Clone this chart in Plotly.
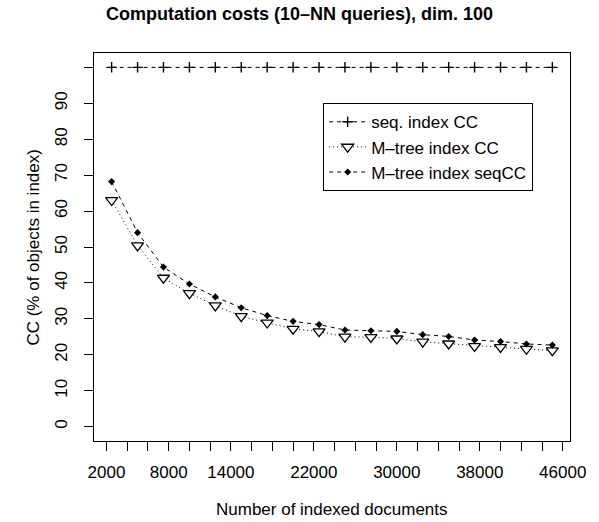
import plotly.graph_objects as go

# ---- data ----
docs = [2500, 5000, 7500, 10000, 12500, 15000, 17500, 20000, 22500,
        25000, 27500, 30000, 32500, 35000, 37500, 40000, 42500, 45000]
seq_cc = [100] * 18
mtree_cc = [63.0, 50.4, 41.4, 37.1, 33.7, 30.7, 28.9, 27.2, 26.5,
            25.0, 24.9, 24.5, 23.6, 23.1, 22.4, 22.1, 21.6, 21.2]
mtree_seqcc = [68.2, 54.0, 44.4, 39.7, 36.1, 33.1, 30.9, 29.3, 28.4,
               26.9, 26.7, 26.5, 25.6, 25.1, 24.1, 23.7, 23.0, 22.7]

x_tickvals = list(range(2000, 46001, 2000))
x_labels_shown = {2000, 8000, 14000, 22000, 30000, 38000, 46000}
x_ticktext = [str(v) if v in x_labels_shown else "" for v in x_tickvals]
y_tickvals = list(range(0, 101, 10))
y_ticktext = [str(v) if v < 100 else "" for v in y_tickvals]

FONT = "Liberation Sans, Arial, Helvetica, sans-serif"

fig = go.Figure()
fig.add_trace(go.Scatter(
    x=docs, y=seq_cc, name="seq. index CC", mode="lines+markers",
    line=dict(color="black", width=1, dash="4px,4px"),
    marker=dict(symbol="cross-thin", size=7.5, line=dict(color="black", width=1.4)),
))
fig.add_trace(go.Scatter(
    x=docs, y=mtree_cc, name="M–tree index CC", mode="lines+markers",
    line=dict(color="black", width=1, dash="1px,3px"),
    marker=dict(symbol="triangle-down", size=10.5, color="white",
                line=dict(color="black", width=1.3)),
))
fig.add_trace(go.Scatter(
    x=docs, y=mtree_seqcc, name="M–tree index seqCC", mode="lines+markers",
    line=dict(color="black", width=1, dash="4px,4px"),
    marker=dict(symbol="diamond", size=5.5, color="black", line=dict(width=0)),
))

axis_common = dict(
    showline=True, mirror=True, linecolor="black", linewidth=1.2,
    ticks="outside", ticklen=9, tickwidth=1, tickcolor="black",
    showgrid=False, zeroline=False,
    tickfont=dict(family=FONT, size=17, color="black"),
)

fig.update_xaxes(range=[800, 46700], tickvals=x_tickvals, ticktext=x_ticktext,
                 ticklabelstandoff=6, **axis_common)
fig.update_yaxes(range=[-4, 104], tickvals=y_tickvals, ticktext=y_ticktext,
                 tickangle=-90, ticklabelstandoff=10, **axis_common)

fig.update_layout(
    width=599, height=522,
    margin=dict(l=94, r=29, t=53, b=81),
    paper_bgcolor="white", plot_bgcolor="white",
    font=dict(family=FONT, size=17, color="black"),
    title=dict(text="<b>Computation costs (10–NN queries), dim. 100</b>",
               x=0.5, xanchor="center", xref="container",
               y=1 - 13.5 / 522, yanchor="middle", yref="container",
               font=dict(family=FONT, size=18, color="black")),
    showlegend=True,
    legend=dict(x=0.481, y=0.871, xanchor="left", yanchor="top",
                bordercolor="black", borderwidth=1.2, bgcolor="white",
                font=dict(family=FONT, size=17, color="black"),
                itemwidth=37, tracegroupgap=0),
    annotations=[
        dict(text="Number of indexed documents", xref="paper", yref="paper",
             x=0.5, y=-0.176, xanchor="center", yanchor="middle",
             showarrow=False, font=dict(family=FONT, size=17, color="black")),
        dict(text="CC (% of objects in index)", xref="paper", yref="paper",
             x=-0.129, y=0.5, xanchor="center", yanchor="middle", textangle=-90,
             showarrow=False, font=dict(family=FONT, size=17, color="black")),
    ],
)

fig.write_html("out.html",
               config={"displayModeBar": False},
               post_script="document.body.style.margin='0';document.body.style.padding='0';")
